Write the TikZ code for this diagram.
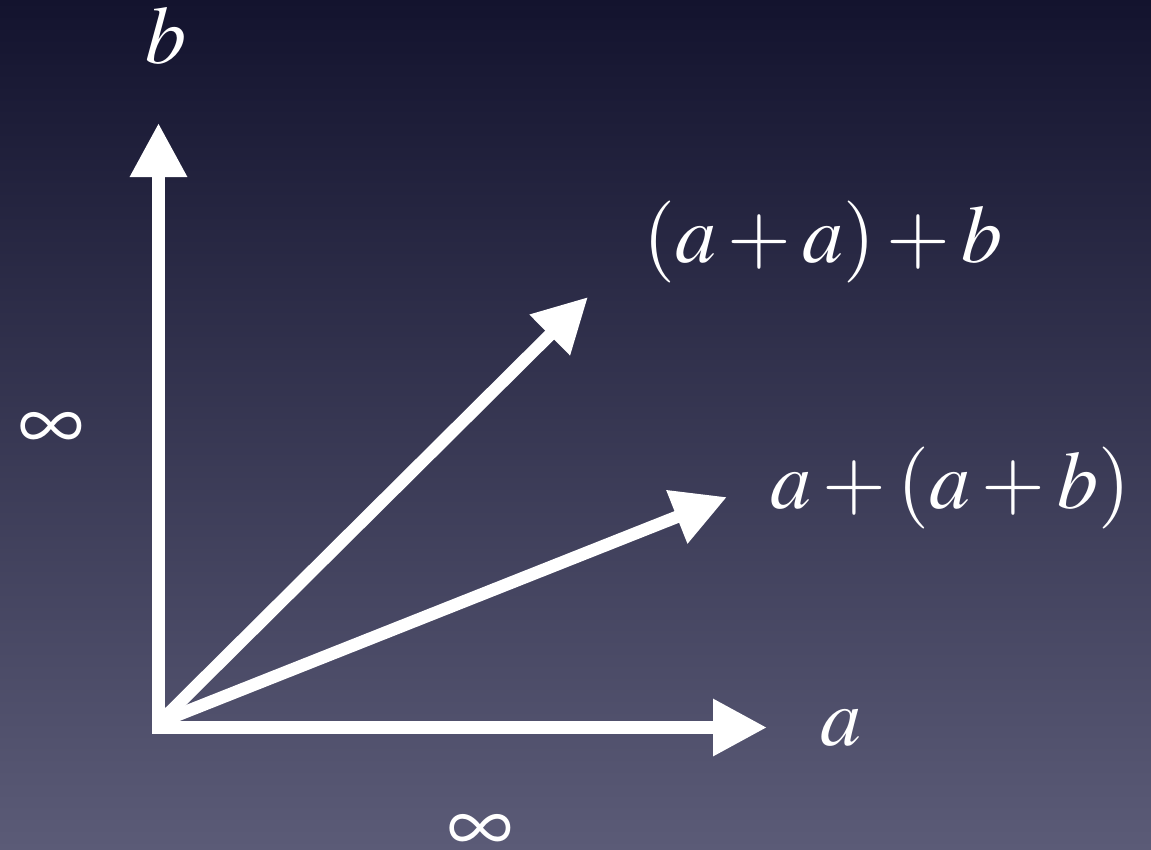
\documentclass[tikz,border=0pt]{standalone}
\usepackage{mathptmx}
\usetikzlibrary{arrows.meta}
\definecolor{bgtop}{RGB}{19,19,46}
\definecolor{bgbot}{RGB}{91,91,119}
\tikzset{
  axis/.style={draw=white, line width=12.5pt, line cap=butt,
    -{Triangle[length=54pt,width=54pt]}},
  lbl/.style={text=white, inner sep=0pt, font=\fontsize{82}{86}\selectfont, anchor=base},
  inf/.style={text=white, inner sep=0pt, font=\fontsize{92}{96}\selectfont, anchor=center},
}
\begin{document}
\begin{tikzpicture}[x=1pt,y=-1pt]
\shade[top color=bgtop, bottom color=bgbot] (0,0) rectangle (1151,849);
\useasboundingbox (0,0) rectangle (1151,849);
\coordinate (O) at (160,722);
\coordinate (Ybot) at (158.5,733);
\coordinate (Ytip) at (158.5,123);
\coordinate (Xleft) at (152,727.5);
\coordinate (Xtip) at (767,727.5);
\coordinate (D1) at (588,297);
\coordinate (D2) at (727,497);
\draw[axis] (Ybot) -- (Ytip);
\draw[axis] (Xleft) -- (Xtip);
\draw[axis] (O) -- (D1);
\draw[axis] (O) -- (D2);
\node[lbl] (lb) at (166,63) {$b$};
\node[lbl] (la) at (841,745) {$a$};
\node[lbl] (l1) at (823,262) {$(a+a)+b$};
\node[lbl] (l2) at (950,508) {$a+(a+b)$};
\node[inf] (inf1) at (51,432) {$\infty$};
\node[inf] (inf2) at (480,834) {$\infty$};
\end{tikzpicture}
\end{document}
